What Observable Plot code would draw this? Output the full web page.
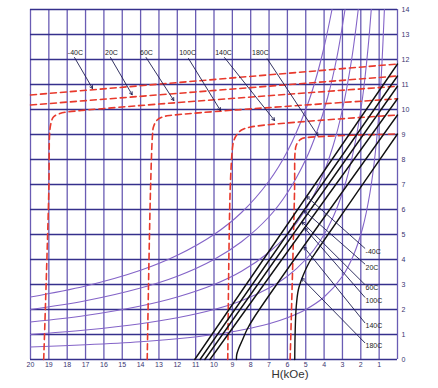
<!DOCTYPE html>
<html><head><meta charset="utf-8">
<script src="https://cdn.jsdelivr.net/npm/d3@7"></script>
<script src="https://cdn.jsdelivr.net/npm/@observablehq/plot@0.6"></script>
<style>
html,body{margin:0;padding:0;background:#fff;}
#chart{width:438px;height:388px;overflow:hidden;}
</style>
</head><body><div id="chart"></div>
<script>
// ---- axis ticks ----
const xTickVals = [20,19,18,17,16,15,14,13,12,11,10,9,8,7,6,5,4,3,2,1];
const yTickVals = [0,1,2,3,4,5,6,7,8,9,10,11,12,13,14];
const gridH = [20,19,18,17,16,15,14,13,12,11,10,9,8,7,6,5,4,3,2,1,0];
const gridB = [0,1,2,3,4,5,6,7,8,9,10,11,12,13,14];

// ---- temperatures ----
const temps = ["-40C","20C","60C","100C","140C","180C"];

// ---- intrinsic (J) curves, red dashed : H (kOe), B (kG) ----
const jH_m40 = [20, 0];
const jB_m40 = [10.58, 11.82];
const jH_20  = [20, 0];
const jB_20  = [10.18, 11.34];
const jH_60  = [19.28, 19.0, 18.96, 18.9, 18.75, 18.4, 18.0, 0];
const jB_60  = [0, 6.8, 9.0, 9.4, 9.7, 9.84, 9.9, 10.93];
const jH_100 = [13.64, 13.46, 13.35, 13.3, 13.1, 12.8, 12.4, 0];
const jB_100 = [0, 6.8, 9.0, 9.3, 9.58, 9.7, 9.76, 10.43];
const jH_140 = [9.25, 9.12, 9.0, 8.92, 8.75, 8.5, 8.0, 0];
const jB_140 = [0, 6.76, 8.4, 8.76, 9.0, 9.18, 9.3, 9.78];
const jH_180 = [5.85, 5.61, 5.58, 5.5, 5.25, 4.9, 0];
const jB_180 = [0, 6.76, 8.3, 8.6, 8.82, 8.88, 9.02];

// ---- normal (B) curves, black solid ----
const bH_m40 = [0, 11.05];
const bB_m40 = [11.82, 0];
const bH_20  = [0, 10.76];
const bB_20  = [11.34, 0];
const bH_60  = [0, 10.5];
const bB_60  = [10.93, 0];
const bH_100 = [0, 10.22];
const bB_100 = [10.43, 0];
const bH_140 = [0, 7.8, 8.2, 8.45, 8.65, 8.76, 8.78];
const bB_140 = [9.78, 1.7, 1.2, 0.78, 0.45, 0.2, 0];
const bH_180 = [0, 4.3, 4.8, 5.15, 5.4, 5.52, 5.58, 5.6];
const bB_180 = [9.02, 4.45, 3.9, 3.35, 2.8, 2.1, 1.0, 0];

// ---- energy-product curves (MGOe), purple ----
const eH_10 = [20,17,14,12,10,8.5,7,6,5,4,3,2.4,1.9,1.5,1.2,1,0.85,0.714];
const eB_10 = [0.5,0.59,0.71,0.83,1,1.18,1.43,1.67,2,2.5,3.33,4.17,5.26,6.67,8.33,10,11.8,14];
const eH_20 = [20,17,14,12,10,8.5,7,6,5,4.2,3.5,2.8,2.3,1.9,1.6,1.43];
const eB_20 = [1,1.18,1.43,1.67,2,2.35,2.86,3.33,4,4.76,5.71,7.14,8.7,10.5,12.5,14];
const eH_30 = [20,17,14,12,10,8.5,7,6,5,4.2,3.5,3,2.5,2.14];
const eB_30 = [1.5,1.76,2.14,2.5,3,3.53,4.29,5,6,7.14,8.57,10,12,14];
const eH_40 = [20,17,14,12,10,8.5,7,6,5,4.4,3.8,3.3,2.86];
const eB_40 = [2,2.35,2.86,3.33,4,4.71,5.71,6.67,8,9.09,10.5,12.1,14];
const eH_50 = [20,17,14,12,10,8.5,7,6,5,4.5,4,3.57];
const eB_50 = [2.5,2.94,3.57,4.17,5,5.88,7.14,8.33,10,11.1,12.5,14];

// ---- top labels (J curves) ----
const topLabelH = [17.55, 15.59, 13.68, 11.44, 9.48, 7.47];
const topLabelB = [12.28, 12.28, 12.28, 12.28, 12.28, 12.28];
const topArrowH1 = [17.6, 15.64, 13.7, 11.39, 9.43, 7.1];
const topArrowB1 = [12.08, 12.08, 12.08, 12.04, 12.08, 12.03];
const topArrowH2 = [16.62, 14.46, 12.19, 9.65, 6.7, 4.34];
const topArrowB2 = [10.84, 10.59, 10.36, 9.96, 9.56, 8.96];

// ---- right labels (B curves) ----
const rightLabelH = [1.74, 1.74, 1.74, 1.74, 1.74, 1.74];
const rightLabelB = [4.32, 3.69, 2.87, 2.36, 1.34, 0.54];
const rightArrowH1 = [1.78, 1.78, 1.78, 1.78, 1.78, 1.78];
const rightArrowB1 = [4.45, 3.82, 3.0, 2.49, 1.47, 0.67];
const rightArrowH2 = [4.95, 5.1, 5.2, 5.05, 5.1, 5.22];
const rightArrowB2 = [6.52, 5.96, 5.5, 5.25, 4.5, 3.25];

const xLabel = "H(kOe)";

// ---- build tables ----
function pts(H, B, name) { return H.map((h, i) => ({H: h, B: B[i], name})); }
const jCurves = [
  ...pts(jH_m40, jB_m40, temps[0]), ...pts(jH_20, jB_20, temps[1]), ...pts(jH_60, jB_60, temps[2]),
  ...pts(jH_100, jB_100, temps[3]), ...pts(jH_140, jB_140, temps[4]), ...pts(jH_180, jB_180, temps[5])
];
const bCurves = [
  ...pts(bH_m40, bB_m40, temps[0]), ...pts(bH_20, bB_20, temps[1]), ...pts(bH_60, bB_60, temps[2]),
  ...pts(bH_100, bB_100, temps[3]), ...pts(bH_140, bB_140, temps[4]), ...pts(bH_180, bB_180, temps[5])
];
const eCurves = [
  ...pts(eH_10, eB_10, "10"), ...pts(eH_20, eB_20, "20"), ...pts(eH_30, eB_30, "30"),
  ...pts(eH_40, eB_40, "40"), ...pts(eH_50, eB_50, "50")
];
const topLabels = temps.map((t, i) => ({t, x: topLabelH[i], y: topLabelB[i],
  x1: topArrowH1[i], y1: topArrowB1[i], x2: topArrowH2[i], y2: topArrowB2[i]}));
const rightLabels = temps.map((t, i) => ({t, x: rightLabelH[i], y: rightLabelB[i],
  x1: rightArrowH1[i], y1: rightArrowB1[i], x2: rightArrowH2[i], y2: rightArrowB2[i]}));

const chart = Plot.plot({
  width: 438, height: 388,
  marginLeft: 30, marginRight: 41, marginTop: 9, marginBottom: 29,
  x: {domain: [20, 0]},
  y: {domain: [0, 14]},
  style: {fontFamily: "'Liberation Sans', Arial, sans-serif", background: "#fff", overflow: "visible"},
  marks: [
    Plot.ruleX(gridH, {stroke: "#6a5cb4", strokeWidth: 1.3}),
    Plot.ruleY(gridB, {stroke: "#35308c", strokeWidth: 1.3}),
    Plot.axisX(xTickVals, {anchor: "bottom", tickSize: 0, tickPadding: 3, fontSize: 7, color: "#3a3470", label: null}),
    Plot.axisY(yTickVals, {anchor: "right", tickSize: 0, tickPadding: 4, fontSize: 7, color: "#3a3470", label: null}),
    Plot.line(eCurves, {x: "H", y: "B", z: "name", stroke: "#8464c8", strokeWidth: 1.1, curve: "catmull-rom"}),
    Plot.line(jCurves, {x: "H", y: "B", z: "name", stroke: "#e8392c", strokeWidth: 1.6, strokeDasharray: "6,4", curve: "catmull-rom"}),
    Plot.line(bCurves, {x: "H", y: "B", z: "name", stroke: "#111111", strokeWidth: 1.4, curve: "catmull-rom"}),
    Plot.arrow(topLabels, {x1: "x1", y1: "y1", x2: "x2", y2: "y2", stroke: "#1c1c50", strokeWidth: 0.9, headLength: 5}),
    Plot.arrow(rightLabels, {x1: "x1", y1: "y1", x2: "x2", y2: "y2", stroke: "#1c1c50", strokeWidth: 0.9, headLength: 5}),
    Plot.text(topLabels, {x: "x", y: "y", text: "t", fontSize: 7, fill: "#222", textAnchor: "middle"}),
    Plot.text(rightLabels, {x: "x", y: "y", text: "t", fontSize: 7, fill: "#222", textAnchor: "start"}),
    Plot.text([xLabel], {x: [5.86], frameAnchor: "bottom", dy: 18, text: d => d, fontSize: 11.5, fill: "#333"})
  ]
});
document.getElementById("chart").appendChild(chart);
</script>
</body></html>
